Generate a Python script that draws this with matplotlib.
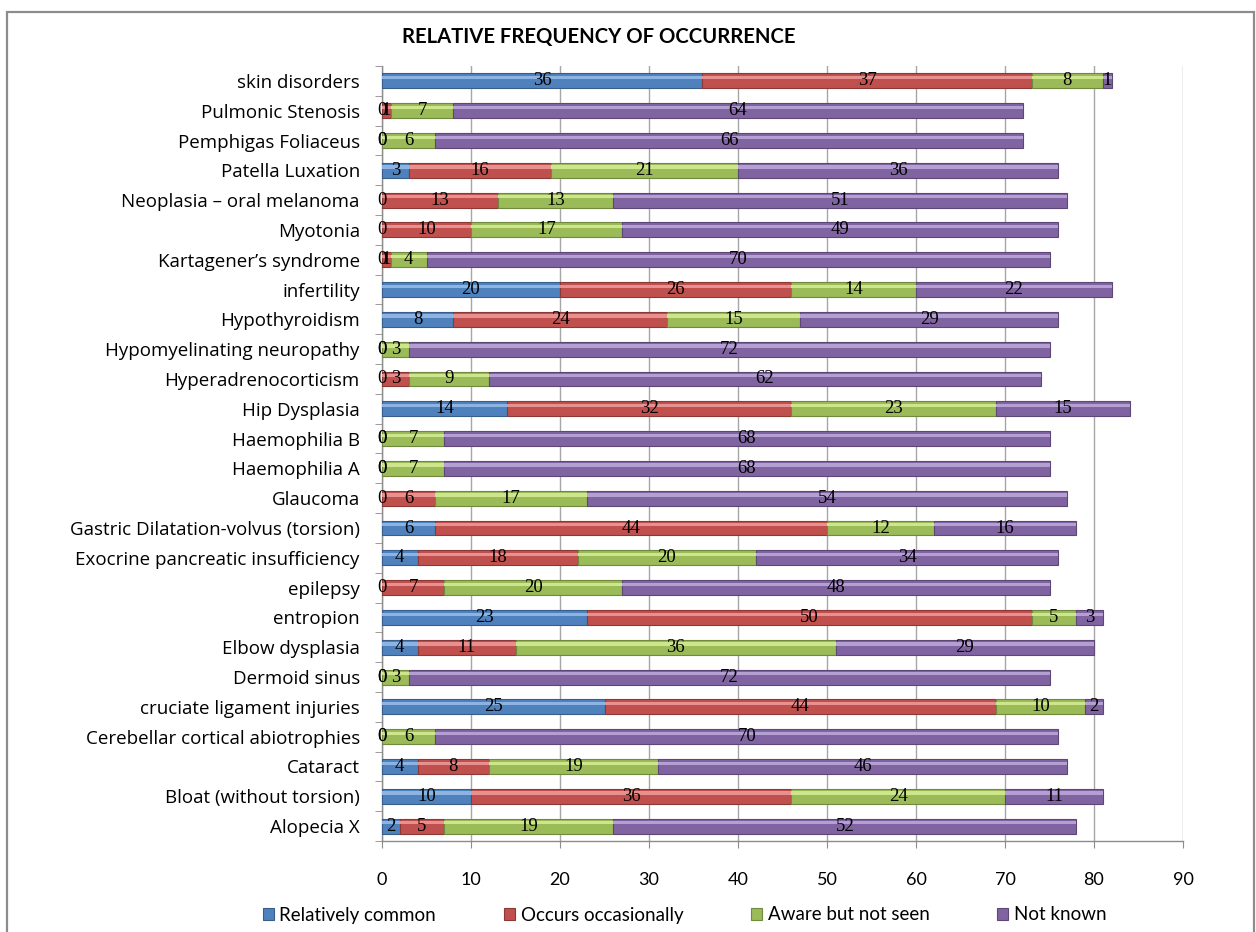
import matplotlib
matplotlib.use("Agg")
import matplotlib.pyplot as plt
from matplotlib.patches import Rectangle
import numpy as np

categories = [
    "Alopecia X", "Bloat (without torsion)", "Cataract", "Cerebellar cortical abiotrophies",
    "cruciate ligament injuries", "Dermoid sinus", "Elbow dysplasia", "entropion", "epilepsy",
    "Exocrine pancreatic insufficiency", "Gastric Dilatation-volvus (torsion)", "Glaucoma",
    "Haemophilia A", "Haemophilia B", "Hip Dysplasia", "Hyperadrenocorticism",
    "Hypomyelinating neuropathy", "Hypothyroidism", "infertility", "Kartagener\u2019s syndrome",
    "Myotonia", "Neoplasia \u2013 oral melanoma", "Patella Luxation", "Pemphigas Foliaceus",
    "Pulmonic Stenosis", "skin disorders",
]
relatively_common = [2, 10, 4, 0, 25, 0, 4, 23, 0, 4, 6, 0, 0, 0, 14, 0, 0, 8, 20, 0, 0, 0, 3, 0, 0, 36]
occurs_occasionally = [5, 36, 8, 0, 44, 0, 11, 50, 7, 18, 44, 6, 0, 0, 32, 3, 0, 24, 26, 1, 10, 13, 16, 0, 1, 37]
aware_not_seen = [19, 24, 19, 6, 10, 3, 36, 5, 20, 20, 12, 17, 7, 7, 23, 9, 3, 15, 14, 4, 17, 13, 21, 6, 7, 8]
not_known = [52, 11, 46, 70, 2, 72, 29, 3, 48, 34, 16, 54, 68, 68, 15, 62, 72, 29, 22, 70, 49, 51, 36, 66, 64, 1]

series_names = ["Relatively common", "Occurs occasionally", "Aware but not seen", "Not known"]
series = [relatively_common, occurs_occasionally, aware_not_seen, not_known]
colors = ["#4F81BD", "#C0504D", "#9BBB59", "#8064A2"]
lights = ["#8DB3E2", "#E6918F", "#CDE68C", "#B49FD3"]
edges = ["#385D8A", "#8C3836", "#71893F", "#5C4776"]

W, H = 1256, 932
fig = plt.figure(figsize=(W / 100, H / 100), dpi=100)
LBL = ["Lato", "DejaVu Sans"]
CAT = ["Open Sans", "DejaVu Sans"]

# outer border
fig.patches.append(Rectangle((7 / W, -0.01), (1254 - 7) / W, 1 - 12 / H + 0.01,
                             transform=fig.transFigure, fill=False,
                             edgecolor="#8c8c8c", linewidth=1.6))

ax = fig.add_axes([382 / W, 1 - 841 / H, (1183 - 382) / W, (841 - 66) / H])
y = np.arange(len(categories))
left = np.zeros(len(categories))
handles = []
BH = 0.5
for vals, name, c, lc, ec in zip(series, series_names, colors, lights, edges):
    vals = np.array(vals, dtype=float)
    bars = ax.barh(y, vals, left=left, height=BH, color=c, edgecolor=ec,
                   linewidth=0.8, label=name, zorder=3)
    # highlight stripe for the bevelled look
    ax.barh(y + BH * 0.22, vals, left=left, height=BH * 0.22, color=lc,
            linewidth=0, zorder=3.5)
    handles.append(bars)
    for yi, v, l in zip(y, vals, left):
        ax.text(l + v / 2, yi, f"{int(v)}", ha="center", va="center",
                fontsize=13.5, family=["Liberation Serif", "DejaVu Serif"],
                color="black", zorder=5)
    left += vals

ax.set_xlim(0, 90)
ax.set_ylim(-0.5, len(categories) - 0.5)
ax.set_xticks(np.arange(0, 91, 10))
ax.set_yticks(y)
ax.set_yticklabels(categories, family=CAT, fontsize=13.5)
ax.set_yticks(np.arange(-0.5, len(categories), 1), minor=True)
ax.tick_params(axis="y", which="major", length=0, pad=16)
ax.tick_params(axis="y", which="minor", length=5, color="#8c8c8c", direction="out")
ax.tick_params(axis="x", length=5, color="#8c8c8c", direction="out", pad=17)
for lab in ax.get_xticklabels():
    lab.set_family(LBL)
    lab.set_fontsize(13)
ax.grid(axis="x", color="#a6a6a6", linewidth=1.0, zorder=0)
for s in ["top", "right"]:
    ax.spines[s].set_visible(False)
for s in ["left", "bottom"]:
    ax.spines[s].set_color("#8c8c8c")
    ax.spines[s].set_linewidth(1.0)

fig.text(402 / W, 1 - 37 / H, "RELATIVE FREQUENCY OF OCCURRENCE", ha="left", va="center",
         fontsize=14.6, fontweight="bold", family=LBL)

fig.legend(handles=handles, labels=series_names, loc="center", ncol=4,
           bbox_to_anchor=(0.545, 1 - 915 / H), frameon=False,
           prop={"family": LBL, "size": 13.5}, handlelength=0.6, handleheight=0.6,
           columnspacing=3.6, handletextpad=0.3)

fig.savefig("out.png", dpi=100)
